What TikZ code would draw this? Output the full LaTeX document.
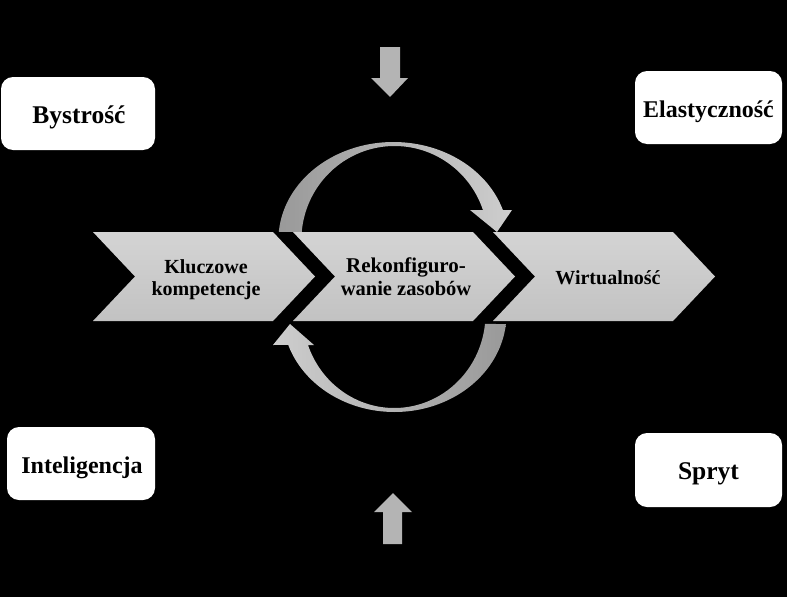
\documentclass[tikz,border=0pt]{standalone}
\usepackage{fontspec}
\setmainfont{Liberation Serif}
\definecolor{chevtop}{HTML}{D4D4D4}
\definecolor{chevbot}{HTML}{C2C2C2}
\definecolor{arcdark}{HTML}{999999}
\definecolor{arclight}{HTML}{CECECE}
\definecolor{arrowgray}{HTML}{B4B4B4}
\begin{document}
\begin{tikzpicture}[x=1pt,y=-1pt,
  sidebox/.style={fill=white, rounded corners=12pt},
  sidetext/.style={inner sep=0pt, text=black,
    font=\fontsize{24}{28}\bfseries\selectfont},
  bigtext/.style={sidetext, font=\fontsize{25.5}{28}\bfseries\selectfont},
  chevtext/.style={align=center, inner sep=0pt, text=black,
    font=\fontsize{20}{20}\bfseries\selectfont},
  chevfill/.style={top color=chevtop, bottom color=chevbot},
  stemarrow/.style={fill=arrowgray}]
\fill[black] (0,0) rectangle (787,597);
\useasboundingbox (0,0) rectangle (787,597);

% side boxes
\fill[sidebox] (1,77) rectangle (155,150);
\node[bigtext, anchor=base] (bys) at (79,123) {Bystrość};
\fill[sidebox] (635,71) rectangle (782,144);
\node[sidetext, anchor=base] (ela) at (708.5,117) {Elastyczność};
\fill[sidebox] (7,427) rectangle (155,500);
\node[sidetext, anchor=base] (int) at (82,473) {Inteligencja};
\fill[sidebox] (635,433) rectangle (782,507);
\node[bigtext, anchor=base] (spr) at (708.5,479) {Spryt};

% chevrons
\foreach \x in {93,293,493}
  \fill[chevfill] (\x,232) -- ++(180,0) -- ++(42,44.5) -- ++(-42,44.5)
     -- ++(-180,0) -- ++(42,-44.5) -- cycle;

\node[chevtext, anchor=base] (kk1) at (206,273) {Kluczowe};
\node[chevtext, anchor=base] (kk2) at (206,295) {kompetencje};
\node[chevtext, anchor=base, font=\fontsize{21}{20}\bfseries\selectfont] (rz1) at (406,272) {Rekonfiguro-};
\node[chevtext, anchor=base, font=\fontsize{20.5}{20}\bfseries\selectfont] (rz2) at (406,295) {wanie zasobów};
\node[chevtext, anchor=base] (wi) at (608,284) {Wirtualność};

% straight arrows
\fill[stemarrow] (380,47) -- (400,47) -- (400,78) -- (408,78) -- (390,97)
   -- (371,78) -- (380,78) -- cycle;
\fill[stemarrow] (383,544) -- (402,544) -- (402,512) -- (412,512) -- (393,493)
   -- (374,512) -- (383,512) -- cycle;

% top circular arrow
\fill[left color=arcdark, right color=arclight]
  plot[domain=184.7:342.2, samples=90] ({393.4+115*cos(\x)},{240+98*sin(\x)})
  -- (512,210) -- (497,232) -- (470,210)
  -- plot[domain=341.4:184.9, samples=90] ({394.6+93.2*cos(\x)},{240+94*sin(\x)})
  -- cycle;

% bottom circular arrow
\fill[left color=arclight, right color=arcdark]
  plot[domain=5.86:161.6, samples=90] ({394.5+112*cos(\x)},{314+98*sin(\x)})
  -- (273,345) -- (290,324) -- (314,345)
  -- plot[domain=160.7:6.1, samples=90] ({394.2+91.3*cos(\x)},{314+94*sin(\x)})
  -- cycle;
\end{tikzpicture}
\end{document}
